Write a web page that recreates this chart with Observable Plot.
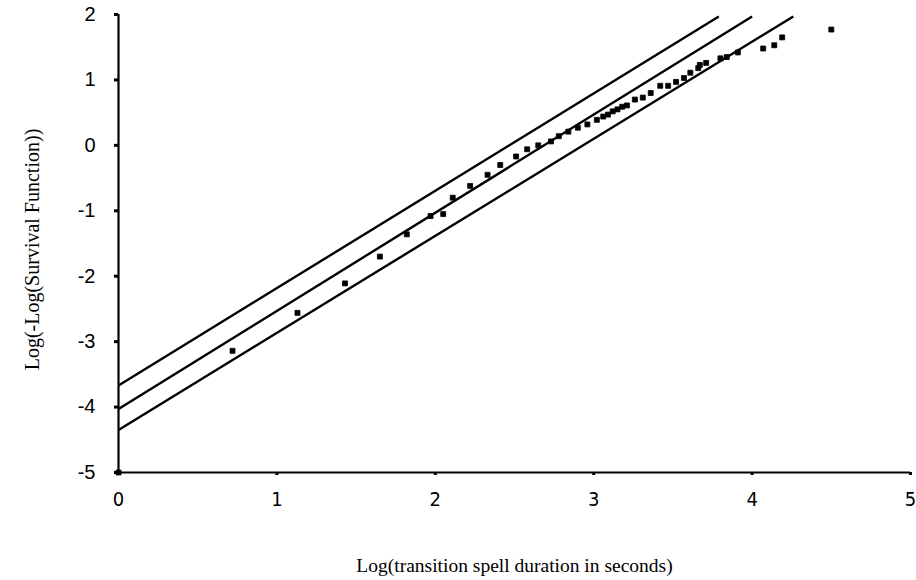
<!DOCTYPE html>
<html>
<head>
<meta charset="utf-8">
<script src="https://cdn.jsdelivr.net/npm/d3@7"></script>
<script src="https://cdn.jsdelivr.net/npm/@observablehq/plot@0.6"></script>
<style>
  html, body { margin: 0; padding: 0; background: #fff; }
  #chart svg { display: block; }
</style>
</head>
<body>
<div id="chart"></div>
<script>
// Observed points: log duration vs log(-log(survival))
const logDuration = [0, 0.72, 1.13, 1.43, 1.65, 1.82, 1.97, 2.05, 2.11, 2.22, 2.33, 2.41, 2.51, 2.58, 2.65, 2.73, 2.78, 2.84, 2.90, 2.96, 3.02, 3.06, 3.09, 3.12, 3.15, 3.18, 3.21, 3.26, 3.31, 3.36, 3.42, 3.47, 3.52, 3.57, 3.61, 3.66, 3.67, 3.71, 3.80, 3.84, 3.91, 4.07, 4.14, 4.19, 4.50];
const logNegLogSurv = [-5, -3.14, -2.56, -2.11, -1.70, -1.36, -1.08, -1.05, -0.80, -0.62, -0.45, -0.30, -0.17, -0.06, 0.00, 0.06, 0.14, 0.21, 0.27, 0.32, 0.39, 0.44, 0.47, 0.52, 0.55, 0.59, 0.61, 0.70, 0.73, 0.80, 0.91, 0.91, 0.97, 1.03, 1.11, 1.18, 1.23, 1.26, 1.33, 1.35, 1.42, 1.48, 1.53, 1.65, 1.77];

// Fitted line and its two bounds (start and end points)
const lineNames = ["upper", "fit", "lower"];
const lineStartX = [0, 0, 0];
const lineStartY = [-3.67, -4.03, -4.35];
const lineEndX = [3.79, 4.0, 4.26];
const lineEndY = [1.97, 1.97, 1.97];

const xTicks = [0, 1, 2, 3, 4, 5];
const yTicks = [-5, -4, -3, -2, -1, 0, 1, 2];
const xTitle = "Log(transition spell duration in seconds)";
const yTitle = "Log(-Log(Survival Function))";

const points = logDuration.map((x, i) => ({x, y: logNegLogSurv[i]}));
const lines = lineNames.map((name, i) => ({name, x1: lineStartX[i], y1: lineStartY[i], x2: lineEndX[i], y2: lineEndY[i]}));

const sansY = "'Liberation Sans', Arial, sans-serif";
const sansX = "'Liberation Sans Narrow', 'DejaVu Sans Condensed', 'Liberation Sans', sans-serif";
const serif = "'Liberation Serif', 'DejaVu Serif', serif";
const plain = d => String(d);

const chart = Plot.plot({
  width: 916,
  height: 580,
  marginLeft: 118,
  marginRight: 6,
  marginTop: 14,
  marginBottom: 108,
  style: {background: "#fff", color: "#000"},
  x: {domain: [0, 5]},
  y: {domain: [-5, 2]},
  marks: [
    Plot.axisY({ticks: yTicks, tickFormat: plain, tickSize: 4, strokeWidth: 3, tickPadding: 19, fontSize: 20, fontFamily: sansY, label: null}),
    Plot.axisX({ticks: xTicks, tickFormat: plain, tickSize: 3, strokeWidth: 3, tickPadding: 16, fontSize: 20, fontFamily: sansX, label: null}),
    Plot.ruleX([0], {y1: -5, y2: 2, strokeWidth: 2.2, stroke: "#000"}),
    Plot.ruleY([-5], {x1: 0, x2: 5, strokeWidth: 2, stroke: "#000"}),
    Plot.link(lines, {x1: "x1", y1: "y1", x2: "x2", y2: "y2", stroke: "#000", strokeWidth: 2.4}),
    Plot.dot(points, {x: "x", y: "y", symbol: "square", r: 2.8, fill: "#000", stroke: "#000", strokeWidth: 0.8}),
    Plot.text([xTitle], {frameAnchor: "bottom", textAnchor: "middle", lineAnchor: "middle", dy: 93, fontSize: 19.5, fontFamily: serif, fill: "#000"}),
    Plot.text([yTitle], {frameAnchor: "left", textAnchor: "middle", lineAnchor: "middle", dx: -86, dy: 6, rotate: -90, fontSize: 20, fontFamily: serif, fill: "#000"})
  ]
});
document.getElementById("chart").appendChild(chart);
</script>
</body>
</html>
